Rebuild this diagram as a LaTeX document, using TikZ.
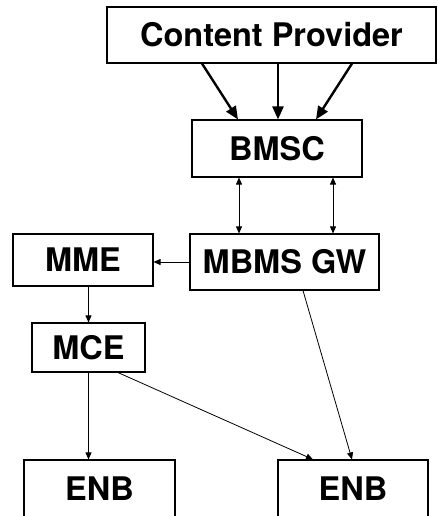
\documentclass[tikz,border=0pt]{standalone}
\usepackage{fontspec}
\setmainfont{TeX Gyre Heros}
\usetikzlibrary{arrows.meta}

\begin{document}
\begin{tikzpicture}[x=1pt,y=-1pt,
  box/.style={draw,line width=1.1pt,inner sep=0pt,font=\fontsize{32.5}{34}\selectfont\bfseries},
  feed/.style={line width=2.4pt,-{Triangle[length=13pt,width=11pt]}},
  link/.style={line width=0.8pt,-{Triangle[length=7pt,width=6pt]}},
  both/.style={line width=0.8pt,{Triangle[length=7pt,width=6pt]}-{Triangle[length=7pt,width=6pt]}}]
\useasboundingbox (0,0) rectangle (437,516);
\clip (0,0) rectangle (437,516);
\node[box,minimum width=329pt,minimum height=56pt] (cp) at (271.5,35) {Content Provider};
\node[box,minimum width=170pt,minimum height=57pt] (bmsc) at (277,148.5) {BMSC};
\node[box,minimum width=140pt,minimum height=52pt] (mme) at (83,260) {MME};
\node[box,minimum width=189pt,minimum height=56pt] (gw) at (284.5,262) {MBMS GW};
\node[box,minimum width=113pt,minimum height=49pt] (mce) at (88.5,347.5) {MCE};
\node[box,minimum width=151pt,minimum height=58pt] (enba) at (99.5,489) {ENB};
\node[box,minimum width=150pt,minimum height=58pt] (enbb) at (353,489) {ENB};

\draw[feed] ([xshift=-69.5pt]cp.south) -- ([xshift=-39pt]bmsc.north);
\draw[feed] ([xshift=6.5pt]cp.south) -- ([xshift=1pt]bmsc.north);
\draw[feed] ([xshift=80.5pt]cp.south) -- ([xshift=39pt]bmsc.north);
\draw[both] ([xshift=-38pt]bmsc.south) -- ([xshift=-45.5pt]gw.north);
\draw[both] ([xshift=56pt]bmsc.south) -- ([xshift=48.5pt]gw.north);
\draw[link] (gw.west) -- (gw.west -| mme.east);
\draw[link] (mce.north |- mme.south) -- (mce.north);
\draw[link] (mce.south) -- (mce.south |- enba.north);
\draw[link] ([xshift=29.5pt]mce.south) -- ([xshift=-40pt]enbb.north);
\draw[link] ([xshift=18.5pt]gw.south) -- ([xshift=-1pt]enbb.north);
\end{tikzpicture}
\end{document}
